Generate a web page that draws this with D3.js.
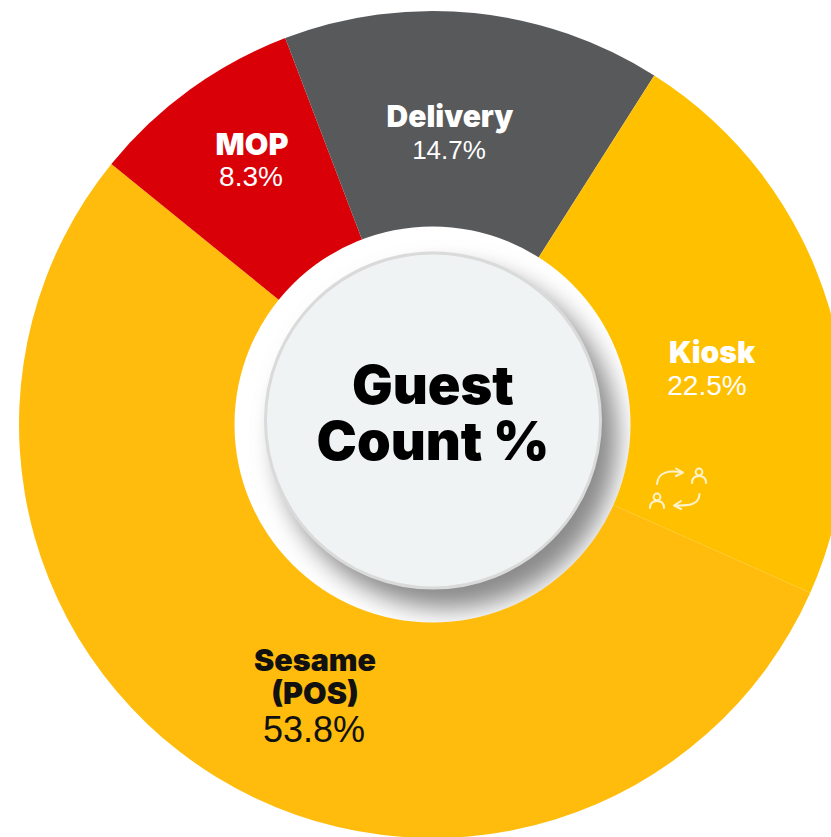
<!DOCTYPE html>
<html><head><meta charset="utf-8">
<script src="https://cdn.jsdelivr.net/npm/d3@7/dist/d3.min.js"></script>
<style>html,body{margin:0;padding:0;background:#fff;overflow:hidden}svg{display:block}
.n{font-family:Inter,"Liberation Sans",sans-serif;font-weight:900}
.v{font-family:"Liberation Sans",sans-serif;font-weight:400}</style>
</head><body><svg id="c" width="831" height="837"></svg>
<script>
const categories=["Sesame (POS)","MOP","Delivery","Kiosk"];
const values=[53.8,8.3,14.7,22.5];
const valueLabels=["53.8%","8.3%","14.7%","22.5%"];
const colors=["#FFBC0D","#DA0007","#58595B","#FFC000"];
const nameLines=[["Sesame","(POS)"],["MOP"],["Delivery"],["Kiosk"]];
const textColors=["#111","#fff","#fff","#fff"];
const nameSizes=[30.5,30.5,30,30];
const valueSizes=[36,28,26,28];
const labelPos=[[315,661,314,731],[252,145,251,177],[450,117,449,150],[712,353,707,386]];
const centerLines=["Guest","Count %"];

const cx=432.5,cy=424.5,R=413.5;
const svg=d3.select("#c");
const defs=svg.append("defs");
const f=defs.append("filter").attr("id","sh").attr("x","-30%").attr("y","-30%").attr("width","160%").attr("height","160%");
f.append("feGaussianBlur").attr("stdDeviation",12);
const clip=defs.append("clipPath").attr("id","wc");
clip.append("circle").attr("cx",cx).attr("cy",cy).attr("r",198);

const start=114*Math.PI/180;
const pie=d3.pie().sort(null).startAngle(start).endAngle(start+2*Math.PI);
const arcs=pie(values);
const arc=d3.arc().innerRadius(0).outerRadius(R);
const g=svg.append("g").attr("transform",`translate(${cx},${cy})`);
g.selectAll("path").data(arcs).join("path").attr("d",arc).attr("fill",(d,i)=>colors[i]);

svg.append("circle").attr("cx",cx).attr("cy",cy).attr("r",198).attr("fill","#fff");
svg.append("g").attr("clip-path","url(#wc)").append("circle")
  .attr("cx",cx+15).attr("cy",cy+14).attr("r",170).attr("fill","#8a8a8a").attr("filter","url(#sh)");
svg.append("circle").attr("cx",433).attr("cy",420.5).attr("r",167.5).attr("fill","#F0F3F4").attr("stroke","#DADADA").attr("stroke-width",3);

svg.selectAll("text.c").data(centerLines).join("text").attr("class","n c")
  .attr("x",433).attr("y",(d,i)=>404+i*56).attr("text-anchor","middle")
  .attr("font-size",54).attr("fill","#000").text(d=>d);

categories.forEach((c,i)=>{
  const p=labelPos[i];
  nameLines[i].forEach((t,j)=>{
    svg.append("text").attr("class","n").attr("x",p[0]).attr("y",p[1]+j*33+10)
      .attr("text-anchor","middle").attr("font-size",nameSizes[i]).attr("fill",textColors[i]).text(t);
  });
  svg.append("text").attr("class","v").attr("x",p[2]).attr("y",p[3]+(i===0?11:9))
    .attr("text-anchor","middle").attr("font-size",valueSizes[i]).attr("fill",textColors[i]).text(valueLabels[i]);
});

const ic=svg.append("g").attr("fill","none").attr("stroke","#FFF3CC").attr("stroke-width",2).attr("stroke-linecap","round").attr("stroke-linejoin","round");
ic.append("path").attr("d","M657 484C658 472 668 470 683 472.5M676 468.5L683 472.5L676 476");
ic.append("path").attr("d","M699.5 494C699 505 689 506 674 505.5M681 501L674 505.5L681 509");
[[699,472],[657,497]].forEach(([x,y])=>{
  ic.append("circle").attr("cx",x).attr("cy",y).attr("r",3.4);
  ic.append("path").attr("d",`M${x-7} ${y+11}c0-5 3-7 7-7s7 2 7 7`);
});
</script></body></html>
